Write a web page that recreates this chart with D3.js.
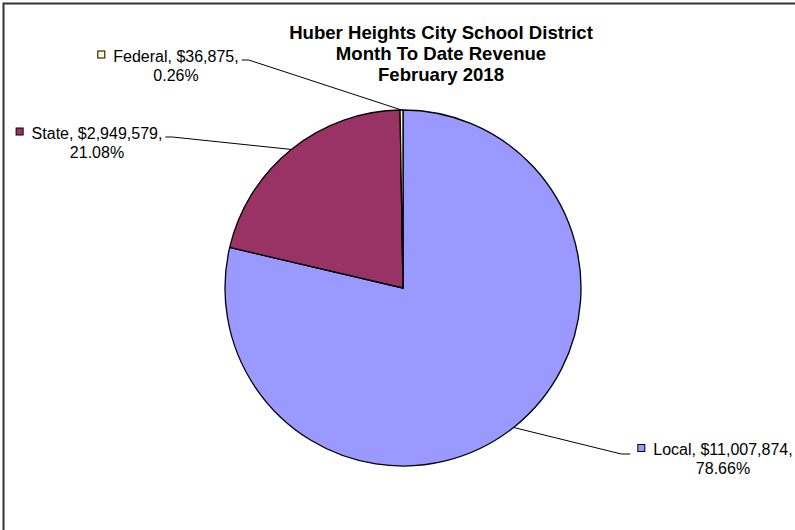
<!DOCTYPE html>
<html>
<head>
<meta charset="utf-8">
<script src="https://cdn.jsdelivr.net/npm/d3@7"></script>
<style>
  body { margin: 0; background: #fff; }
  svg { display: block; font-family: "Liberation Sans", Arial, sans-serif; }
  .title { font-size: 18.6px; font-weight: bold; fill: #000; }
  .lbl { font-size: 16px; fill: #000; }
</style>
</head>
<body>
<svg width="795" height="530"></svg>
<script>
var width = 795,
    height = 530;

// chart data
var categories = ["Local", "State", "Federal"];
var revenue = [11007874, 2949579, 36875];
var sliceColors = ["#9999FF", "#993366", "#FFFFCC"];
var titleLines = ["Huber Heights City School District", "Month To Date Revenue", "February 2018"];

// where each label sits (text centre x, first baseline y, which side of pie)
var labelLayout = {
  Local:   { cx: 723, y: 455, side: "right" },
  State:   { cx: 97,  y: 138.5, side: "left" },
  Federal: { cx: 176, y: 61.5, side: "left" }
};

var cx = 403, cy = 288, radius = 178;

var svg = d3.select("svg");

// chart frame (only top/left edges visible)
svg.append("rect")
  .attr("x", 3.5).attr("y", 3.5)
  .attr("width", 820).attr("height", 560)
  .attr("fill", "none")
  .attr("stroke", "#333")
  .attr("stroke-width", 2);

// title
svg.append("g").selectAll("text")
  .data(titleLines)
  .enter().append("text")
  .attr("class", "title")
  .attr("x", 441)
  .attr("y", function(d, i) { return 38.8 + i * 21.2; })
  .attr("text-anchor", "middle")
  .text(function(d) { return d; });

var total = d3.sum(revenue);
var data = categories.map(function(c, i) {
  return { name: c, value: revenue[i], color: sliceColors[i] };
});

var pie = d3.pie().sort(null).value(function(d) { return d.value; });
var arc = d3.arc().innerRadius(0).outerRadius(radius);
var edgeArc = d3.arc().innerRadius(radius).outerRadius(radius);

var g = svg.append("g").attr("transform", "translate(" + cx + "," + cy + ")");

var arcs = pie(data);

g.selectAll("path")
  .data(arcs)
  .enter().append("path")
  .attr("d", arc)
  .attr("fill", function(d) { return d.data.color; })
  .attr("stroke", "#000")
  .attr("stroke-width", 1.3)
  .attr("stroke-linejoin", "round");

var money = d3.format("$,");
var pct = d3.format(".2%");

var labelLayer = svg.append("g");

arcs.forEach(function(a) {
  var pos = labelLayout[a.data.name];
  var t = labelLayer.append("text")
    .attr("class", "lbl")
    .attr("text-anchor", "middle");
  t.append("tspan").attr("x", pos.cx).attr("y", pos.y)
    .text(a.data.name + ", " + money(a.data.value) + ",");
  t.append("tspan").attr("x", pos.cx).attr("y", pos.y + 19)
    .text(pct(a.data.value / total));

  var w = t.node().firstChild.getComputedTextLength();
  var left = pos.cx - w / 2, right = pos.cx + w / 2;

  // legend key square
  labelLayer.append("rect")
    .attr("x", left - 15.5).attr("y", pos.y - 10.5)
    .attr("width", 7).attr("height", 7)
    .attr("fill", a.data.color)
    .attr("stroke", "#000")
    .attr("stroke-width", 1);

  // leader line: arc midpoint -> short horizontal -> label
  var c = edgeArc.centroid(a);
  var px = cx + c[0], py = cy + c[1];
  var pts;
  if (pos.side === "left") {
    var ax = right + 3, ay = pos.y - 1.5;
    pts = [[ax, ay], [ax + 7, ay], [px, py]];
  } else {
    var bx = left - 23, by = pos.y - 1;
    pts = [[px, py], [bx - 9, by], [bx, by]];
  }
  labelLayer.append("path")
    .attr("d", d3.line()(pts))
    .attr("fill", "none")
    .attr("stroke", "#000")
    .attr("stroke-width", 1);
});
</script>
</body>
</html>
